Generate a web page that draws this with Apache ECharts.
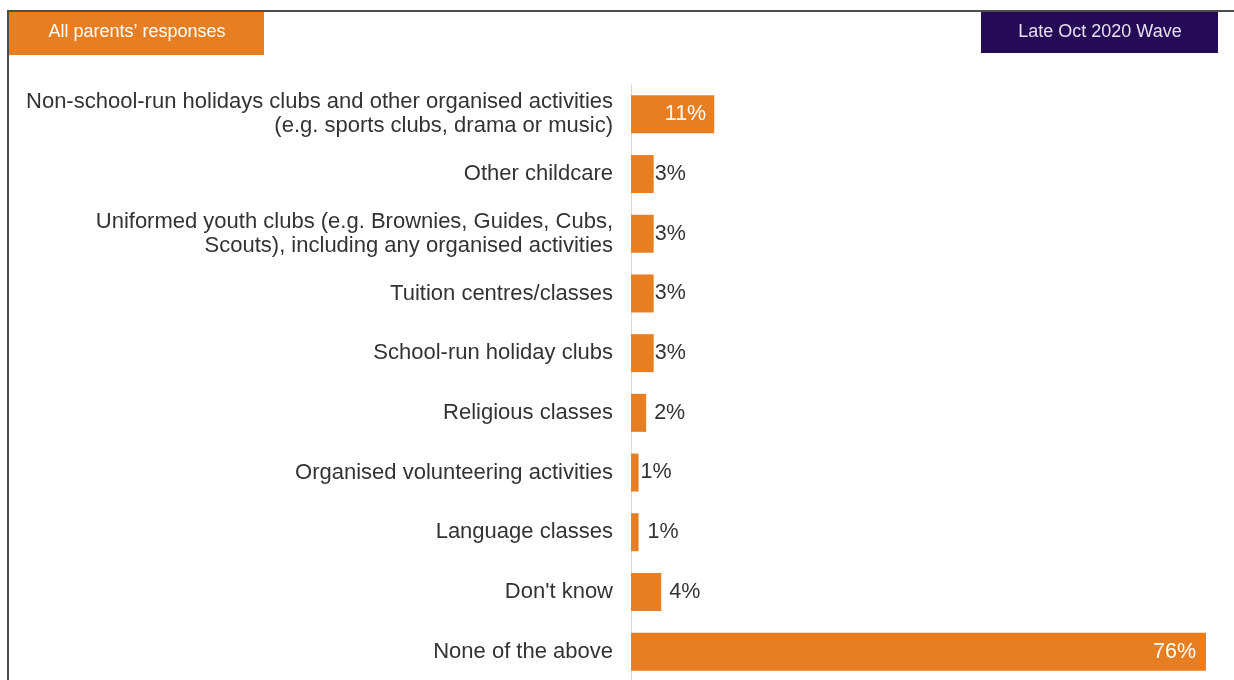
<!DOCTYPE html>
<html>
<head>
<meta charset="utf-8">
<script src="https://cdn.jsdelivr.net/npm/echarts@6/dist/echarts.min.js"></script>
<style>
html,body{margin:0;padding:0;background:#fff;}
#c{width:1234px;height:680px;}
</style>
</head>
<body>
<div id="c"></div>
<script>
var categories = [
  "Non-school-run holidays clubs and other organised activities\n(e.g. sports clubs, drama or music)",
  "Other childcare",
  "Uniformed youth clubs (e.g. Brownies, Guides, Cubs,\nScouts), including any organised activities",
  "Tuition centres/classes",
  "School-run holiday clubs",
  "Religious classes",
  "Organised volunteering activities",
  "Language classes",
  "Don't know",
  "None of the above"
];
var values = [11, 3, 3, 3, 3, 2, 1, 1, 4, 76];
var labelDistances = [8, 1, 1, 1, 1, 8, 2, 9, 8, 10];
var headerLeft = "All parents\u2019 responses";
var headerRight = "Late Oct 2020 Wave";

var FONT = "'Liberation Sans', Arial, Helvetica, sans-serif";
var ORANGE = "#E87E22";
var PURPLE = "#250A55";

var chart = echarts.init(document.getElementById('c'), null, {renderer: 'canvas'});

var seriesData = values.map(function (v, i) {
  var inside = v > 10;
  return {
    value: v,
    label: {
      show: true,
      position: inside ? 'insideRight' : 'right',
      distance: labelDistances[i],
      color: inside ? '#FFFFFF' : '#333333',
      fontSize: 21.5,
      fontFamily: FONT,
      formatter: '{c}%'
    }
  };
});

var option = {
  backgroundColor: '#ffffff',
  animation: false,
  grid: {
    left: 631,
    top: 84.5,
    width: 575,
    height: 597,
    outerBoundsMode: 'none',
    containLabel: false
  },
  xAxis: {
    type: 'value',
    min: 0,
    max: 76,
    show: false
  },
  yAxis: {
    type: 'category',
    data: categories,
    inverse: true,
    axisLine: {show: true, lineStyle: {color: '#D9D9D9', width: 1}},
    axisTick: {show: false},
    axisLabel: {
      color: '#333333',
      fontSize: 22,
      fontFamily: FONT,
      lineHeight: 24,
      margin: 18,
      align: 'right',
      padding: [5, 0, 0, 0]
    }
  },
  series: [{
    type: 'bar',
    data: seriesData,
    barWidth: 38,
    itemStyle: {color: ORANGE}
  }],
  graphic: [
    {type: 'line', shape: {x1: 8, y1: 11, x2: 1234, y2: 11}, style: {stroke: '#4D4D4D', lineWidth: 2}, z: 100},
    {type: 'line', shape: {x1: 8, y1: 10, x2: 8, y2: 680}, style: {stroke: '#4D4D4D', lineWidth: 2}, z: 100},
    {type: 'rect', shape: {x: 8, y: 12, width: 256, height: 43}, style: {fill: ORANGE}, z: 50},
    {type: 'text', x: 137, y: 32, style: {text: headerLeft, fill: '#FFFFFF', font: '18px ' + FONT, align: 'center', verticalAlign: 'middle'}, z: 60},
    {type: 'rect', shape: {x: 981, y: 12, width: 237, height: 41}, style: {fill: PURPLE}, z: 50},
    {type: 'text', x: 1100, y: 32, style: {text: headerRight, fill: '#E6E0F0', font: '18px ' + FONT, align: 'center', verticalAlign: 'middle'}, z: 60}
  ]
};
chart.setOption(option);
</script>
</body>
</html>
